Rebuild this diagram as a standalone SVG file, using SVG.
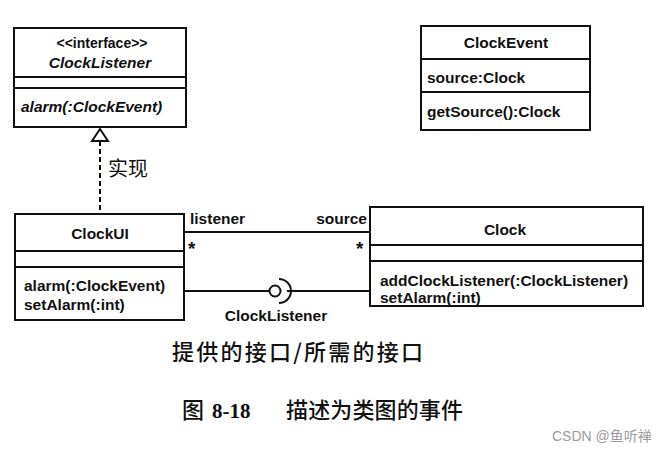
<svg xmlns="http://www.w3.org/2000/svg" width="666" height="452" viewBox="0 0 666 452">
<style>
.box{fill:#fff;stroke:#111;stroke-width:2}
.ln{stroke:#111;stroke-width:2;fill:none}
.t{font-family:"Liberation Sans",Arial,sans-serif;font-weight:bold;font-size:15.5px;fill:#111}
.c{text-anchor:middle}
.i{font-style:italic}
.m{font-size:19px}
.cjk{font-family:"Noto Sans CJK SC",sans-serif;fill:#111}
</style>
<rect width="666" height="452" fill="#fff"/>
<g id="ClockListener">
<rect class="box" x="14" y="28" width="172" height="99"/>
<line class="ln" x1="14" y1="77" x2="186" y2="77"/>
<line class="ln" x1="14" y1="88" x2="186" y2="88"/>
<text class="t c" x="102" y="48" style="font-size:14px">&lt;&lt;interface&gt;&gt;</text>
<text class="t c i" x="100" y="68">ClockListener</text>
<text class="t i" x="21" y="112">alarm(:ClockEvent)</text>
</g>
<g id="ClockEvent">
<rect class="box" x="421" y="26" width="169" height="104"/>
<line class="ln" x1="421" y1="59" x2="590" y2="59"/>
<line class="ln" x1="421" y1="92" x2="590" y2="92"/>
<text class="t c" x="506" y="48">ClockEvent</text>
<text class="t" x="427" y="83">source:Clock</text>
<text class="t" x="427" y="117">getSource():Clock</text>
</g>
<g id="ClockUI">
<rect class="box" x="15" y="214" width="169" height="106"/>
<line class="ln" x1="15" y1="251" x2="184" y2="251"/>
<line class="ln" x1="15" y1="267" x2="184" y2="267"/>
<text class="t c" x="100" y="239">ClockUI</text>
<text class="t" x="24" y="291">alarm(:ClockEvent)</text>
<text class="t" x="24" y="310">setAlarm(:int)</text>
</g>
<g id="Clock">
<rect class="box" x="370" y="207" width="273" height="99"/>
<line class="ln" x1="370" y1="245" x2="643" y2="245"/>
<line class="ln" x1="370" y1="261" x2="643" y2="261"/>
<text class="t c" x="505" y="235">Clock</text>
<text class="t" x="380" y="286">addClockListener(:ClockListener)</text>
<text class="t" x="380" y="303">setAlarm(:int)</text>
</g>
<g id="connectors">
<line class="ln" x1="100" y1="141" x2="100" y2="213" stroke-dasharray="5,3"/>
<polygon points="100,129 108,141 92,141" fill="#fff" stroke="#111" stroke-width="2"/>
<text class="cjk" x="108" y="176" style="font-size:20px">实现</text>
<line class="ln" x1="184" y1="232" x2="370" y2="232"/>
<text class="t" x="190" y="224">listener</text>
<text class="t" x="367" y="224" text-anchor="end">source</text>
<text class="t m" x="188" y="255">*</text>
<text class="t m" x="356" y="255">*</text>
<line class="ln" x1="184" y1="291" x2="269" y2="291"/>
<circle cx="275" cy="291" r="5.5" fill="#fff" stroke="#111" stroke-width="2"/>
<path class="ln" d="M279 279 A12 12 0 0 1 279 303"/>
<line class="ln" x1="287" y1="291" x2="370" y2="291"/>
<text class="t c" x="276" y="321">ClockListener</text>
</g>
<text class="cjk" x="172" y="360" style="font-size:22px;font-weight:500" textLength="251">提供的接口/所需的接口</text>
<text class="cjk" y="418" style="font-size:22px;font-weight:500"><tspan x="182">图</tspan><tspan x="212" font-family="Liberation Serif, serif" font-weight="bold" font-size="21">8-18</tspan><tspan x="286" textLength="177">描述为类图的事件</tspan></text>
<text x="552" y="441" style="font-family:'Liberation Sans','Noto Sans CJK SC',sans-serif;font-size:14px;fill:#9a9a9a">CSDN @鱼听禅</text>
</svg>
